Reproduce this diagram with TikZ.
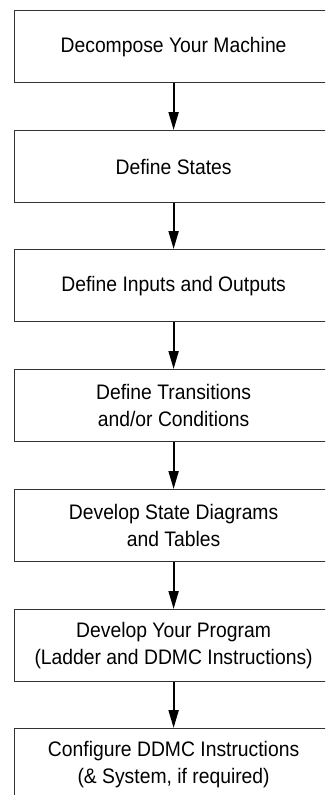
\documentclass[tikz,border=0pt]{standalone}
\usepackage{fontspec}
\setmainfont[FakeStretch=0.92]{Liberation Sans}
\usetikzlibrary{arrows.meta}
\tikzset{
  stepbox/.style={draw=black!80, line width=1.2pt, fill=white,
    minimum width=318pt, minimum height=72pt, anchor=north west,
    align=center, inner sep=0pt,
    font=\fontsize{21}{26.5}\selectfont},
  flow/.style={line width=2pt, -{Triangle[length=18pt,width=10pt]}}
}
\begin{document}
\begin{tikzpicture}[x=1pt,y=1pt]
  \useasboundingbox (0,0) rectangle (325,-795);
  \clip (0,0) rectangle (325,-795);
  \node[stepbox] (s1) at (14,-10)  {Decompose Your Machine};
  \node[stepbox] (s2) at (14,-130) {Define States};
  \node[stepbox] (s3) at (14,-249) {Define Inputs and Outputs};
  \node[stepbox] (s4) at (14,-369) {Define Transitions\\and/or Conditions};
  \node[stepbox] (s5) at (14,-489) {Develop State Diagrams\\and Tables};
  \node[stepbox] (s6) at (14,-609) {Develop Your Program\\(Ladder and DDMC Instructions)};
  \node[stepbox] (s7) at (14,-728) {Configure DDMC Instructions\\(\& System, if required)};
  \foreach \a/\b in {s1/s2,s2/s3,s3/s4,s4/s5,s5/s6,s6/s7}
    \draw[flow] (\a.south) -- (\b.north);
\end{tikzpicture}
\end{document}
